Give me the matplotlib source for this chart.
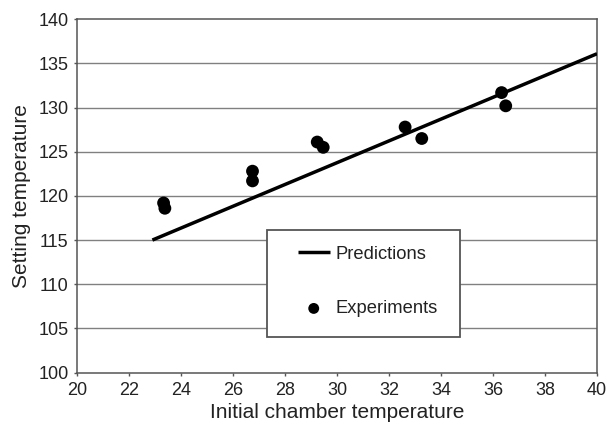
import matplotlib
matplotlib.use("Agg")
import matplotlib.pyplot as plt
from matplotlib.patches import Rectangle

plt.rcParams['font.family'] = ['Liberation Sans', 'DejaVu Sans']

# Data
pred_x = [22.9, 40.0]
pred_y = [115.0, 136.1]
exp_x = [23.33, 23.38, 26.75, 26.75, 29.24, 29.47, 32.62, 33.26, 36.33, 36.49]
exp_y = [119.2, 118.6, 122.8, 121.7, 126.1, 125.5, 127.8, 126.5, 131.7, 130.2]
x_ticks = [20, 22, 24, 26, 28, 30, 32, 34, 36, 38, 40]
y_ticks = [100, 105, 110, 115, 120, 125, 130, 135, 140]

fig = plt.figure(figsize=(6.07, 4.28), dpi=100)
ax = fig.add_axes([77/607, 1-372.5/428, 520/607, 353.2/428])

ax.set_xlim(20, 40)
ax.set_ylim(100, 140)
ax.set_xticks(x_ticks)
ax.set_yticks(y_ticks)

for yv in y_ticks[1:-1]:
    ax.axhline(yv, color='#808080', lw=1.0, zorder=1)

line, = ax.plot(pred_x, pred_y, color='black', lw=2.5, zorder=4, label='Predictions', solid_capstyle='butt')
pts = ax.scatter(exp_x, exp_y, s=85, color='black', zorder=5, label='Experiments', edgecolors='none')

for sp in ax.spines.values():
    sp.set_color('#555555')
    sp.set_linewidth(1.1)

ax.tick_params(axis='both', direction='out', length=2.5, width=1, color='#555555',
               labelsize=13, labelcolor='#222222')
ax.tick_params(axis='x', pad=4)
ax.tick_params(axis='y', pad=3.5)
ax.set_xlabel('Initial chamber temperature', fontsize=15, color='#222222', labelpad=3)
ax.set_ylabel('Setting temperature', fontsize=15, color='#222222', labelpad=5)

# Legend box
rect = Rectangle((0.366, 0.1014), 0.3705, 0.3023, transform=ax.transAxes,
                 facecolor='white', edgecolor='#555555', lw=1.3, zorder=6)
ax.add_patch(rect)
leg = ax.legend(handles=[line, pts], loc='center left', bbox_to_anchor=(0.4244, 0.2578),
                frameon=False, fontsize=13.2, borderpad=0, borderaxespad=0,
                handlelength=1.75, handletextpad=0.33, labelspacing=2.05,
                scatterpoints=1, markerscale=0.85)
leg.set_zorder(7)
for t in leg.get_texts():
    t.set_color('#222222')

fig.savefig('out.png', dpi=100, facecolor='white')
